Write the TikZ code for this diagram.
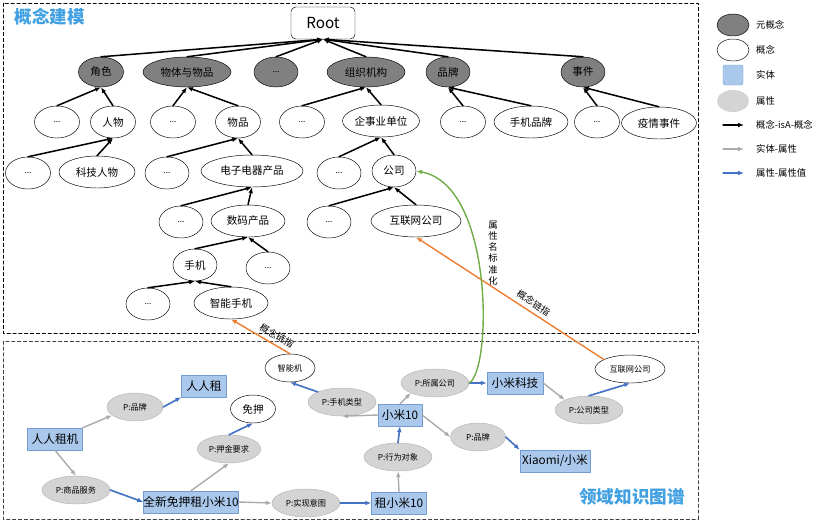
\documentclass[tikz,border=0pt]{standalone}
\usepackage{fontspec}
\setmainfont{Noto Sans CJK SC}
\usepackage{tikz}
\usetikzlibrary{shapes.geometric}
\usetikzlibrary{arrows.meta}
\definecolor{titleblue}{RGB}{65,160,225}
\definecolor{metagray}{RGB}{128,128,128}
\definecolor{attrgray}{RGB}{212,212,212}
\definecolor{entfill}{RGB}{170,200,235}
\definecolor{entdraw}{RGB}{115,155,210}
\definecolor{arrgray}{RGB}{170,170,170}
\definecolor{arrblue}{RGB}{68,114,196}
\definecolor{linkorange}{RGB}{237,125,49}
\definecolor{stdgreen}{RGB}{112,173,71}

\begin{document}
\begin{tikzpicture}[x=0.03cm,y=-0.03cm,line cap=round,line join=round,
  rootbox/.style={draw,rounded corners=4pt,fill=white,minimum width=1.92cm,minimum height=0.96cm,inner sep=0pt,font=\fontsize{13}{15}\selectfont},
  meta/.style={ellipse,draw,fill=metagray,minimum width=#1,minimum height=0.9cm,inner sep=0pt,font=\fontsize{9}{11}\selectfont},
  cpt/.style={ellipse,draw,fill=white,minimum width=#1,minimum height=0.96cm,inner sep=0pt,font=\fontsize{9}{11}\selectfont},
  smallcpt/.style={ellipse,draw,fill=white,minimum width=#1,minimum height=0.84cm,inner sep=0pt,font=\fontsize{7}{9}\selectfont},
  ent/.style={draw=entdraw,fill=entfill,minimum width=#1,minimum height=0.66cm,inner sep=0pt,font=\fontsize{10}{12}\selectfont},
  attr/.style={ellipse,fill=attrgray,draw=attrgray!85!black,minimum width=#1,minimum height=0.84cm,inner sep=0pt,font=\fontsize{7}{9}\selectfont},
  dots/.style={font=\fontsize{7}{9}\selectfont},
  isa/.style={-{Latex[length=5pt,width=4pt]},line width=1.3pt},
  eattr/.style={-{Latex[length=5pt,width=4pt]},line width=1.2pt,arrgray},
  aval/.style={-{Latex[length=5pt,width=4pt]},line width=1.4pt,arrblue},
  link/.style={-{Latex[length=5pt,width=4pt]},line width=1.2pt,linkorange},
  stdz/.style={-{Latex[length=5pt,width=4pt]},line width=1.2pt,stdgreen},
  title/.style={font=\fontsize{15}{17}\selectfont\bfseries,text=titleblue},
  lgtext/.style={anchor=west,font=\fontsize{8}{10}\selectfont}]
\useasboundingbox (0,0) rectangle (832,526);

% frames
\draw[dash pattern=on 3pt off 2pt] (3,3) rectangle (698,333);
\draw[dash pattern=on 3pt off 2pt,darkgray] (3,341) rectangle (698,519);
\node[title] (ttop) at (50,17) {概念建模};
\node[title] (tbot) at (632,497) {领域知识图谱};

% concept tree
\node[rootbox] (root) at (323,23) {Root};
\node[meta=1.35cm] (jiaose) at (101,72) {角色};
\node[meta=2.64cm] (wuti) at (187,72) {物体与物品};
\node[meta=1.32cm,dots] (mdots) at (276,72) {...};
\node[meta=2.34cm] (zuzhi) at (366,72) {组织机构};
\node[meta=1.32cm] (pinpai) at (448,72) {品牌};
\node[meta=1.32cm] (shijian) at (583,72) {事件};

\node[cpt=1.35cm,dots] (d21) at (57,122) {...};
\node[cpt=1.35cm] (renwu) at (113,122) {人物};
\node[cpt=1.35cm,dots] (d22) at (173,122) {...};
\node[cpt=1.35cm] (wupin) at (238,122) {物品};
\node[cpt=1.35cm,dots] (d23) at (302,122) {...};
\node[cpt=2.31cm] (qishiye) at (381,121) {企事业单位};
\node[cpt=1.35cm,dots] (d24) at (463,122) {...};
\node[cpt=2.22cm] (sjpinpai) at (531,122) {手机品牌};
\node[cpt=1.35cm,dots] (d25) at (597,122) {...};
\node[cpt=2.25cm] (yiqing) at (659,123) {疫情事件};

\node[cpt=1.35cm,dots] (d31) at (28,173) {...};
\node[cpt=2.28cm] (kjrenwu) at (97,172) {科技人物};
\node[cpt=1.32cm,dots] (d32) at (167,173) {...};
\node[cpt=3.06cm] (dianzi) at (252,171) {电子电器产品};
\node[cpt=1.32cm,dots] (d33) at (339,173) {...};
\node[cpt=1.32cm] (gongsi) at (394,171) {公司};

\node[cpt=1.32cm,dots] (d41) at (181,222) {...};
\node[cpt=2.22cm] (shuma) at (248,221) {数码产品};
\node[cpt=1.32cm,dots] (d42) at (329,222) {...};
\node[cpt=2.7cm] (hlw) at (416,221) {互联网公司};

\node[cpt=1.32cm] (shouji) at (195,265) {手机};
\node[cpt=1.32cm,dots] (d51) at (268,268) {...};

\node[cpt=1.32cm,dots] (d61) at (148,304) {...};
\node[cpt=2.22cm] (znshouji) at (231,303) {智能手机};

\foreach \a in {jiaose,wuti,mdots,zuzhi,pinpai,shijian}
  \draw[isa] (\a.north) -- (root.south);
\foreach \a/\b in {d21/jiaose,renwu/jiaose,d22/wuti,wupin/wuti,d23/zuzhi,qishiye/zuzhi,
  d24/pinpai,sjpinpai/pinpai,d25/shijian,yiqing/shijian,
  d31/renwu,kjrenwu/renwu,d32/wupin,dianzi/wupin,d33/qishiye,gongsi/qishiye,
  d41/dianzi,shuma/dianzi,d42/gongsi,hlw/gongsi,
  shouji/shuma,d51/shuma,d61/shouji,znshouji/shouji}
  \draw[isa] (\a.north) -- (\b.south);

% domain graph
\node[ent=1.65cm] (rrzj) at (55,439) {人人租机};
\node[attr=1.68cm] (ppA) at (135,407) {P:品牌};
\node[ent=1.35cm] (rrz) at (204,386) {人人租};
\node[attr=2.04cm] (spfw) at (76,490) {P:商品服务};
\node[ent=2.85cm] (qxmy) at (191,502) {全新免押租小米10};
\node[attr=1.9cm] (yjyq) at (229,449) {P:押金要求};
\node[smallcpt=1.35cm,font=\fontsize{9}{11}\selectfont] (mianya) at (253,409) {免押};
\node[attr=2.04cm] (sxyt) at (306,503) {P:实现意图};
\node[ent=1.65cm] (zxm) at (399,503) {租小米10};
\node[attr=2.04cm] (xwdx) at (398,457) {P:行为对象};
\node[ent=1.32cm] (xm10) at (400,415) {小米10};
\node[attr=2.04cm] (sjlx) at (342,402) {P:手机类型};
\node[smallcpt=1.5cm] (znj) at (290,368) {智能机};
\node[attr=2.04cm] (ssgs) at (435,383) {P:所属公司};
\node[ent=1.68cm] (xmkj) at (515,383) {小米科技};
\node[attr=1.65cm] (ppB) at (478,437) {P:品牌};
\node[ent=2.1cm] (xiaomi) at (555,461) {Xiaomi/小米};
\node[attr=2.04cm] (gslx) at (589,410) {P:公司类型};
\node[smallcpt=2.1cm] (hlw2) at (630,369) {互联网公司};

\draw[eattr] (rrzj.north east) -- (ppA.200);
\draw[aval] (ppA.east) -- (rrz.south west);
\draw[eattr] (rrzj.south) -- (spfw.north);
\draw[aval] (spfw.east) -- (qxmy.west);
\draw[eattr] (qxmy.north) -- (yjyq.south);
\draw[aval] (yjyq.north) -- (mianya.south);
\draw[eattr] (qxmy.east) -- (sxyt.west);
\draw[aval] (sxyt.east) -- (zxm.west);
\draw[eattr] (zxm.north) -- (xwdx.south);
\draw[aval] (xwdx.north) -- (xm10.south);
\draw[eattr] (xm10.west) -- (sjlx.south);
\draw[aval] (sjlx.north west) -- (znj.south);
\draw[eattr] (xm10.north) -- (ssgs.south west);
\draw[aval] (ssgs.east) -- (xmkj.west);
\draw[eattr] (xm10.east) -- (ppB.west);
\draw[aval] (ppB.east) -- (xiaomi.north west);
\draw[eattr] (xmkj.east) -- (gslx.north west);
\draw[aval] (gslx.north) -- (hlw2.south);

% links between layers
\draw[link] (znj.north) -- node[pos=0.3,sloped,above,font=\fontsize{8}{10}\selectfont,text=black] {概念链指} (znshouji.south);
\draw[link] (hlw2.160) -- node[pos=0.4,sloped,above,font=\fontsize{8}{10}\selectfont,text=black] {概念链指} (hlw.south);
\draw[stdz] (ssgs.east) .. controls (492,370) and (494,185) .. (gongsi.east);
\node[font=\fontsize{8}{9.5}\selectfont,align=center] (stdlabel) at (493,253) {属\\性\\名\\标\\准\\化};

% legend
\node[ellipse,draw,fill=metagray,minimum width=0.96cm,minimum height=0.66cm,inner sep=0pt] (lg1) at (733,25) {};
\node[lgtext] (lt1) at (752,25) {元概念};
\node[ellipse,draw,fill=white,minimum width=0.96cm,minimum height=0.66cm,inner sep=0pt] (lg2) at (733,50) {};
\node[lgtext] (lt2) at (752,50) {概念};
\node[draw=entdraw,fill=entfill,rounded corners=2pt,minimum width=0.6cm,minimum height=0.6cm,inner sep=0pt] (lg3) at (733,75) {};
\node[lgtext] (lt3) at (752,75) {实体};
\node[ellipse,fill=attrgray,minimum width=0.96cm,minimum height=0.66cm,inner sep=0pt] (lg4) at (733,101) {};
\node[lgtext] (lt4) at (752,101) {属性};
\coordinate (la1) at (723,125);
\coordinate (la2) at (744,125);
\draw[isa,line width=1pt] (la1) -- (la2);
\node[lgtext] (lt5) at (752,125) {概念-isA-概念};
\coordinate (lb1) at (723,149);
\coordinate (lb2) at (744,149);
\draw[eattr,line width=1pt] (lb1) -- (lb2);
\node[lgtext] (lt6) at (752,149) {实体-属性};
\coordinate (lc1) at (723,173);
\coordinate (lc2) at (744,173);
\draw[aval,line width=1pt] (lc1) -- (lc2);
\node[lgtext] (lt7) at (752,173) {属性-属性值};
\end{tikzpicture}
\end{document}
